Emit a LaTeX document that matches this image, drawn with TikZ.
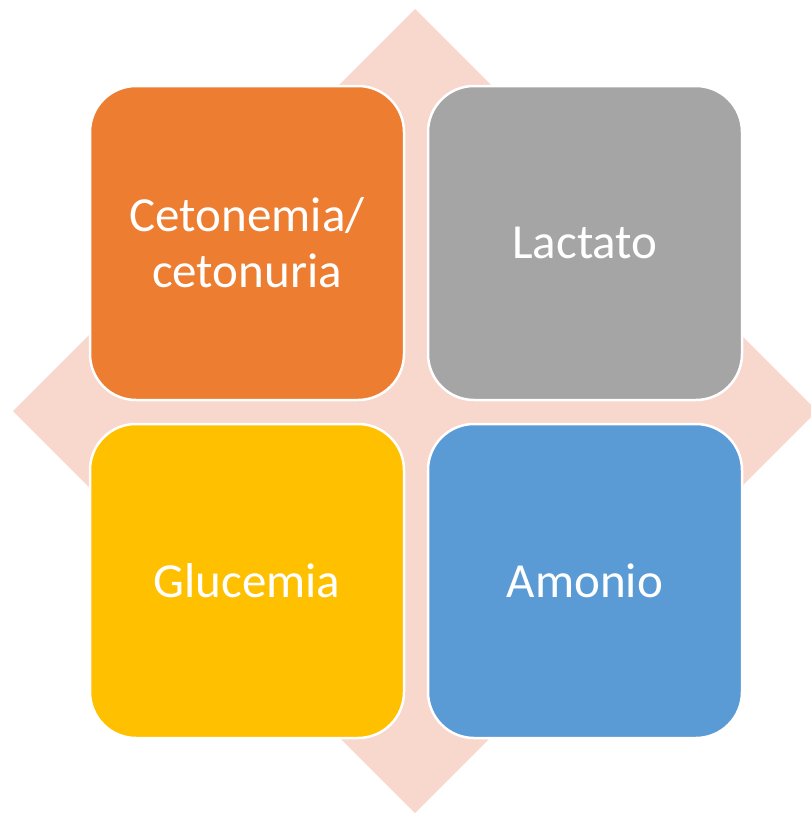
\documentclass[tikz,border=0pt]{standalone}
\usepackage{fontspec}
\setmainfont{Carlito}
\definecolor{dia}{HTML}{F8D7CD}
\definecolor{corg}{HTML}{ED7D31}
\definecolor{cgry}{HTML}{A5A5A5}
\definecolor{cyel}{HTML}{FFC000}
\definecolor{cblu}{HTML}{5B9BD5}
\begin{document}
\begin{tikzpicture}[x=1pt,y=-1pt,
  tile/.style={draw=white,line width=2.5pt,rounded corners=46pt,minimum width=314pt,minimum height=314pt,
    text=white,align=center,inner sep=0pt,font=\fontsize{49}{56}\selectfont}]
\useasboundingbox (0,0) rectangle (811,814);
\clip (0,0) rectangle (811,814);
\fill[dia] (415,9) -- (817,411) -- (415,813) -- (13,411) -- cycle;
\node[tile,fill=corg] (cet) at (247,243) {Cetonemia/\\cetonuria};
\node[tile,fill=cgry] (lac) at (585,243) {Lactato};
\node[tile,fill=cyel] (glu) at (247,581) {Glucemia};
\node[tile,fill=cblu] (amo) at (585,581) {Amonio};
\end{tikzpicture}
\end{document}
